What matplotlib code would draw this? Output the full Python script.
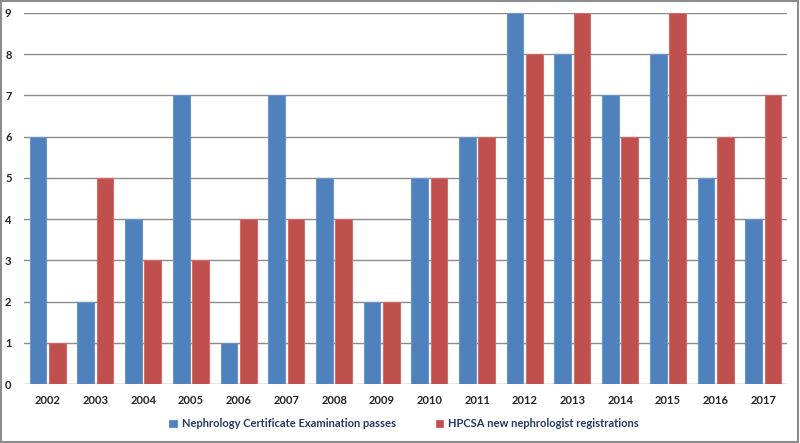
import numpy as np
import matplotlib.pyplot as plt
from matplotlib.patches import Rectangle

years = [str(y) for y in range(2002, 2018)]
exam_passes = [6, 2, 4, 7, 1, 7, 5, 2, 5, 6, 9, 8, 7, 8, 5, 4]
hpcsa_regs = [1, 5, 3, 3, 4, 4, 4, 2, 5, 6, 8, 9, 6, 9, 6, 7]

blue = '#4F81BD'
red = '#C0504D'

plt.rcParams['font.family'] = ['Lato', 'DejaVu Sans']

fig = plt.figure(figsize=(8, 4.43), dpi=100)
ax = fig.add_axes([0.03, 0.133, 0.954, 0.838])

x = np.arange(len(years))
w = 0.35
ax.bar(x - 0.205, exam_passes, w, color=blue, edgecolor='#6a95c9', linewidth=0.8,
       label='Nephrology Certificate Examination passes', zorder=3)
ax.bar(x + 0.2, hpcsa_regs, w, color=red, edgecolor='#d06c69', linewidth=0.8,
       label='HPCSA new nephrologist registrations', zorder=3)

ax.set_xlim(-0.5, len(years) - 0.5)
ax.set_ylim(0, 9)
ax.set_yticks(range(0, 10))
ax.yaxis.grid(True, color='#8c8c8c', linewidth=1, zorder=0)
for s in ax.spines.values():
    s.set_visible(False)
ax.set_xticks(x)
ax.set_xticklabels(years, fontsize=8, fontweight='bold', color='#222222')
ax.tick_params(axis='both', length=0, labelsize=8)
ax.tick_params(axis='y', pad=9)
ax.tick_params(axis='x', pad=8)
for lab in ax.get_yticklabels():
    lab.set_fontweight('bold')
    lab.set_color('#222222')

leg = fig.legend(loc='center', bbox_to_anchor=(0.505, 0.043), ncol=2, frameon=False,
                 fontsize=8, handlelength=0.7, handleheight=0.7, columnspacing=3.6,
                 handletextpad=0.4)
for t in leg.get_texts():
    t.set_fontweight('bold')
    t.set_color('#1f3864')

fig.patches.append(Rectangle((0.001, 0.002), 0.997, 0.996, transform=fig.transFigure,
                             fill=False, edgecolor='#8c8c8c', linewidth=1.5))

fig.savefig('out.png', dpi=100)
